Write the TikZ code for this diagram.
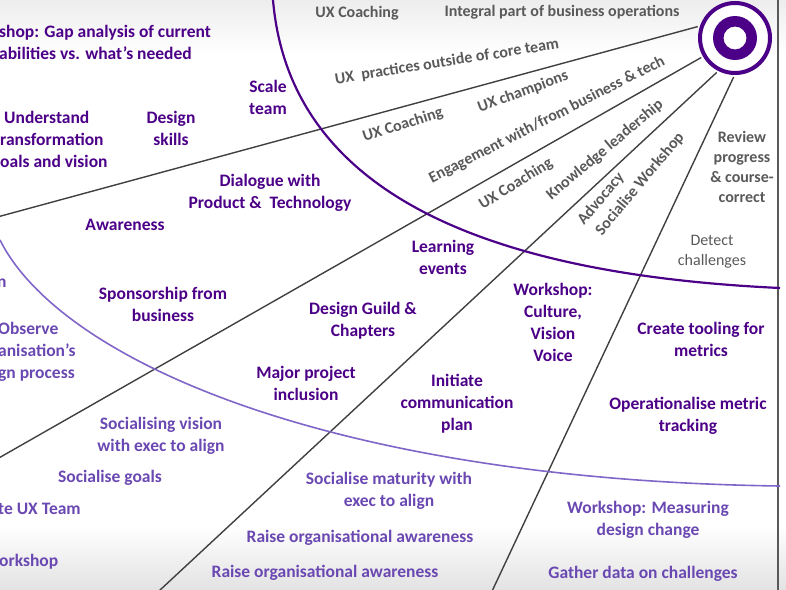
\documentclass[tikz,border=0pt]{standalone}
\usepackage{fontspec}
\setmainfont{Carlito}
\usetikzlibrary{shadows}
\definecolor{deeppurple}{RGB}{75,0,135}
\definecolor{softpurple}{RGB}{106,72,178}
\definecolor{arcpurple}{RGB}{128,102,200}
\definecolor{labelgrey}{RGB}{89,89,89}
\definecolor{raygrey}{RGB}{64,64,64}

\begin{document}
\begin{tikzpicture}[x=1pt, y=-1pt,
    stage/.style={text=deeppurple, font=\bfseries\fontsize{17.5}{22}\selectfont, align=center, inner sep=0pt},
    spread/.style={text=softpurple, font=\bfseries\fontsize{17.5}{22}\selectfont, align=center, inner sep=0pt},
    greytag/.style={text=labelgrey, font=\bfseries\fontsize{16}{20}\selectfont, align=center, inner sep=0pt},
    ray/.style={draw=raygrey, line width=1.4pt}]
    \useasboundingbox (0,0) rectangle (786,589);
    \clip (0,0) rectangle (786,589);
    % background
    \shade[top color=black!7, bottom color=white] (0,0) rectangle (786,55);
    \shade[top color=white, bottom color=black!11] (0,525) rectangle (786,589);
    \draw[line width=1.5pt, black!65] (778,-2) -- (778,591);

    % target and rays
    \node[circle, minimum size=70pt, inner sep=0pt, outer sep=4pt, fill=white, draw=deeppurple, line width=4pt,
          drop shadow={opacity=0.35, shadow xshift=1pt, shadow yshift=-2pt}] (target) at (735,38) {};
    \fill[deeppurple, even odd rule] (target.center) circle (22) circle (11.5);
    \coordinate (farA) at (-10,219);
    \coordinate (farB) at (-10,463);
    \coordinate (farC) at (145,604);
    \coordinate (farD) at (486,604);
    \foreach \a/\f in {163/farA, 210/farB, 242/farC, 268/farD}
        {\draw[ray] (target.\a) -- (\f);}

    % arcs
    \draw[deeppurple, line width=2.2pt] (273,0) .. controls (290,200) and (500,275) .. (780,288);
    \draw[arcpurple, line width=1.6pt] (0,240) .. controls (60,360) and (330,480) .. (780,486);

    % inner stages
    \node[stage, align=left, anchor=west] (gap) at (-1,42) {shop: Gap analysis of current\\abilities vs. what’s needed};
    \node[stage, align=left, anchor=west] (goalsvision) at (0,139) {\hspace*{4pt}Understand\\ransformation\\oals and vision};
    \node[stage] (scale) at (268,97) {Scale\\team};
    \node[stage] (skills) at (171,128) {Design\\skills};
    \node[stage] (dialogue) at (270,193) {Dialogue with\\Product \& \ Technology};
    \node[stage] (awareness) at (125,225) {Awareness};
    \node[stage] (sponsor) at (163,304) {Sponsorship from\\business};
    \node[stage] (learning) at (443,257) {Learning\\events};
    \node[stage] (guild) at (363,321) {Design Guild \&\\Chapters};
    \node[stage] (culture) at (553,322) {Workshop:\\Culture,\\Vision\\Voice};
    \node[stage] (project) at (306,383) {Major project\\inclusion};
    \node[stage] (comms) at (457,404) {Initiate\\communication\\plan};
    \node[stage] (tooling) at (701,339) {Create tooling for\\metrics};
    \node[stage] (tracking) at (688,416) {Operationalise metric\\tracking};

    % outer stages
    \node[spread, anchor=west] (cut) at (-3,283) {n};
    \node[spread, align=left, anchor=west] (observe) at (-2,352) {Observe\\anisation’s\\gn process};
    \node[spread] (vision) at (161,436) {Socialising vision\\with exec to align};
    \node[spread] (goals) at (110,478) {Socialise goals};
    \node[spread, anchor=west] (team) at (-2,509) {te UX Team};
    \node[spread, anchor=west] (workshop) at (-1,562) {orkshop};
    \node[spread] (maturity) at (389,491) {Socialise maturity with\\exec to align};
    \node[spread] (raiseA) at (360,538) {Raise organisational awareness};
    \node[spread] (raiseB) at (325,573) {Raise organisational awareness};
    \node[spread] (measure) at (648,520) {Workshop: Measuring\\design change};
    \node[spread] (gather) at (643,574) {Gather data on challenges};

    % grey labels
    \node[greytag] (coachtop) at (357,13) {UX Coaching};
    \node[greytag] (integral) at (562,12) {Integral part of business operations};
    \node[greytag, rotate=9] (practices) at (447,62) {UX\ \ practices outside of core team};
    \node[greytag, rotate=18] (coachA) at (403,125) {UX Coaching};
    \node[greytag, rotate=20] (champions) at (523,92) {UX champions};
    \node[greytag, rotate=27] (engage) at (547,120) {Engagement with/from business \& tech};
    \node[greytag, rotate=32] (coachB) at (516,184) {UX Coaching};
    \node[greytag, rotate=40] (knowledge) at (605,150) {Knowledge leadership};
    \node[greytag, rotate=50] (advocacy) at (601,199) {Advocacy};
    \node[greytag, rotate=50] (socialise) at (640,184) {Socialise Workshop};
    \node[greytag] (review) at (742,167) {Review\\progress\\\& course-\\correct};
    \node[greytag, font=\fontsize{16}{20}\selectfont] (detect) at (712,252) {Detect\\challenges};
\end{tikzpicture}
\end{document}
